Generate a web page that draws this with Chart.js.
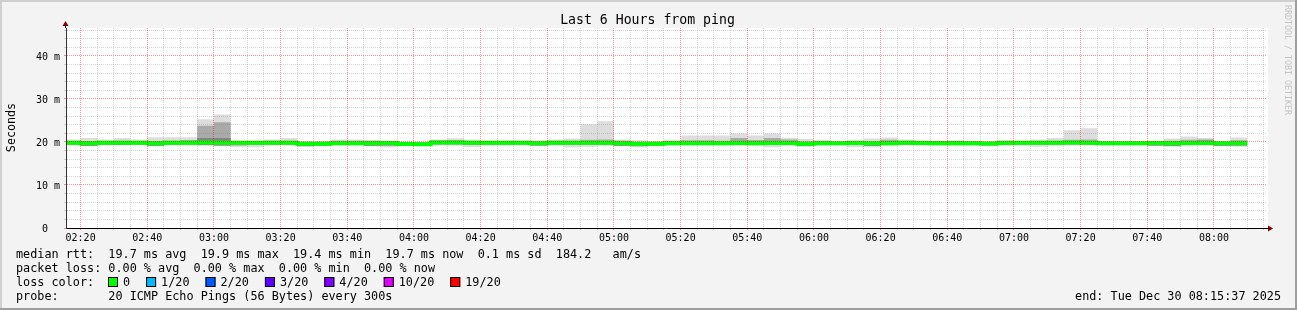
<!DOCTYPE html>
<html>
<head>
<meta charset="utf-8">
<title>Last 6 Hours from ping</title>
<script src="https://cdn.jsdelivr.net/npm/chart.js@4.4.1/dist/chart.umd.min.js"></script>
<style>
    html, body { margin: 0; padding: 0; background: #f3f3f3; }
    #wrap { position: relative; width: 1297px; height: 310px; }
</style>
</head>
<body>
<div id="wrap"><canvas id="ping-chart"></canvas></div>
<script>
// Période affichée (minutes depuis minuit) : 02:15:37 -> 08:15:37
const startMinute = 135 + 37 / 60;
const endMinute = 495 + 37 / 60;
const lastDataMinute = 490; // dernier échantillon : 08:10

// Médiane RTT par tranche de 5 minutes (ms)
const rttMedian = [
    19.8, 19.7, 19.8, 19.8, 19.8, 19.7, 19.8, 19.8, 19.9, 19.8,
    19.8, 19.8, 19.8, 19.8, 19.6, 19.6, 19.7, 19.7, 19.7, 19.75,
    19.55, 19.45, 19.9, 19.9, 19.8, 19.8, 19.8, 19.8, 19.7, 19.8,
    19.8, 19.8, 19.8, 19.7, 19.6, 19.6, 19.7, 19.7, 19.7, 19.7,
    19.75, 19.7, 19.75, 19.75, 19.6, 19.7, 19.7, 19.75, 19.7, 19.7,
    19.8, 19.75, 19.7, 19.7, 19.7, 19.65, 19.75, 19.8, 19.8, 19.8,
    19.85, 19.8, 19.7, 19.7, 19.7, 19.75, 19.7, 19.75, 19.75, 19.7,
    19.7
];

// Fumée : ping le plus rapide / le plus lent
const smokeLow = [
    19.2, 19.0, 19.2, 19.3, 19.3, 19.0, 19.2, 19.2, 19.0, 19.0,
    18.8, 18.8, 19.2, 19.2, 18.9, 19.1, 19.2, 19.2, 19.1, 18.7,
    19.2, 19.3, 19.2, 19.1, 18.8, 19.1, 19.1, 19.2, 19.1, 19.1,
    18.7, 18.9, 19.0, 19.1, 18.7, 19.1, 19.1, 19.2, 19.2, 19.2,
    19.1, 19.1, 18.8, 19.1, 19.0, 19.1, 19.2, 18.8, 18.8, 19.0,
    19.2, 19.1, 19.1, 19.0, 19.0, 19.1, 19.1, 19.1, 18.9, 19.1,
    19.2, 19.2, 19.2, 19.2, 19.2, 19.1, 19.0, 19.0, 19.1, 19.1,
    18.9
];
const smokeHigh = [
    20.6, 20.9, 20.6, 20.9, 20.6, 21.1, 21.1, 21.1, 25.3, 26.4,
    20.3, 20.2, 20.6, 20.9, 20.2, 20.2, 20.6, 20.6, 20.4, 20.3,
    20.1, 20.0, 20.6, 20.85, 20.6, 20.3, 20.35, 20.35, 20.4, 20.6,
    20.8, 24.1, 24.8, 20.6, 20.4, 20.2, 20.5, 21.5, 21.5, 21.5,
    22.0, 21.5, 22.0, 21.0, 20.7, 20.5, 20.2, 20.5, 20.8, 21.05,
    20.6, 20.4, 20.2, 20.3, 20.2, 20.1, 20.4, 20.2, 20.6, 20.9,
    22.7, 23.2, 20.2, 20.2, 20.2, 20.1, 20.8, 21.3, 20.9, 20.2,
    21.05
];

// Fumée intermédiaire (gris moyen)
const midLow = [
    19.4, 19.1, 19.4, 19.3, 19.4, 19.1, 19.4, 19.4, 19.3, 19.2,
    19.2, 19.3, 19.4, 19.4, 19.0, 19.2, 19.3, 19.3, 19.1, 19.2,
    19.2, 19.35, 19.5, 19.5, 19.3, 19.4, 19.4, 19.4, 19.2, 19.4,
    19.3, 19.4, 19.4, 19.1, 19.0, 19.2, 19.3, 19.3, 19.3, 19.3,
    19.3, 19.3, 19.3, 19.4, 19.0, 19.3, 19.3, 19.3, 19.1, 19.3,
    19.4, 19.3, 19.3, 19.3, 19.3, 19.2, 19.3, 19.4, 19.4, 19.4,
    19.4, 19.4, 19.3, 19.3, 19.3, 19.2, 19.0, 19.3, 19.3, 19.1,
    19.2
];
const midHigh = [
    20.2, 20.2, 20.2, 20.3, 20.2, 20.2, 20.3, 20.4, 23.8, 24.6,
    20.2, 20.1, 20.3, 20.3, 20.0, 20.0, 20.3, 20.3, 20.3, 20.2,
    20.0, 19.9, 20.3, 20.4, 20.2, 20.2, 20.2, 20.1, 20.1, 20.3,
    20.3, 20.5, 20.6, 20.3, 20.0, 20.0, 20.2, 20.4, 20.4, 20.3,
    20.9, 20.4, 20.9, 20.6, 20.1, 20.2, 20.0, 20.2, 20.1, 20.5,
    20.3, 20.2, 20.2, 20.3, 20.1, 20.0, 20.3, 20.1, 20.2, 20.3,
    20.5, 20.6, 20.0, 20.0, 20.0, 20.0, 20.3, 20.5, 20.6, 20.0,
    20.4
];

// Fumée centrale (gris foncé)
const innerLow = [
    19.4, 19.15, 19.4, 19.3, 19.4, 19.15, 19.4, 19.4, 19.3, 19.2,
    19.4, 19.4, 19.4, 19.4, 19.05, 19.2, 19.3, 19.3, 19.15, 19.2,
    19.3, 19.4, 19.5, 19.5, 19.35, 19.4, 19.4, 19.4, 19.2, 19.4,
    19.4, 19.4, 19.4, 19.15, 19.1, 19.2, 19.3, 19.3, 19.3, 19.3,
    19.35, 19.3, 19.35, 19.4, 19.1, 19.3, 19.3, 19.35, 19.15, 19.3,
    19.4, 19.35, 19.3, 19.3, 19.3, 19.25, 19.35, 19.4, 19.4, 19.4,
    19.45, 19.4, 19.3, 19.3, 19.3, 19.2, 19.1, 19.3, 19.3, 19.15,
    19.2
];
const innerHigh = [
    20.1, 20.1, 20.1, 20.1, 20.1, 20.1, 20.2, 20.3, 20.9, 20.9,
    20.1, 20.1, 20.1, 20.1, 19.9, 19.9, 20.1, 20.1, 20.1, 20.1,
    19.9, 19.85, 20.3, 20.3, 20.1, 20.1, 20.1, 20.1, 20.0, 20.1,
    20.1, 20.1, 20.2, 20.1, 19.9, 19.9, 20.1, 20.1, 20.1, 20.1,
    20.3, 20.3, 20.3, 20.2, 19.9, 20.1, 20.0, 20.1, 20.0, 20.2,
    20.1, 20.1, 20.2, 20.2, 20.0, 19.9, 20.2, 20.1, 20.1, 20.1,
    20.2, 20.2, 20.0, 20.0, 20.0, 20.0, 20.1, 20.2, 20.35, 20.0,
    20.1
];

// Textes
const chartTitle = 'Last 6 Hours from ping';
const yAxisTitle = 'Seconds';
const watermark = 'RRDTOOL / TOBI OETIKER';
const legendLines = [
    'median rtt:  19.7 ms avg  19.9 ms max  19.4 ms min  19.7 ms now  0.1 ms sd  184.2   am/s',
    'packet loss: 0.00 % avg  0.00 % max  0.00 % min  0.00 % now',
    'loss color:',
    'probe:       20 ICMP Echo Pings (56 Bytes) every 300s'
];
const endLabel = 'end: Tue Dec 30 08:15:37 2025';
const lossLabels = ['0', '1/20', '2/20', '3/20', '4/20', '10/20', '19/20'];
const lossColors = ['#00ff00', '#00b8ff', '#0059ff', '#5e00ff', '#7e00ff', '#dd00ff', '#ff0000'];

// Graduations
const yTicks = [];
for (let v = 0; v <= 46; v += 2) yTicks.push(v);
const xTicks = [];
for (let m = 140; m <= 495; m += 5) xTicks.push(m);

// Début de chaque tranche : la première est tronquée au début du graphe
const binStarts = [startMinute];
for (let i = 1; i < rttMedian.length; i++) binStarts.push(140 + 5 * (i - 1));

function toPoints(values) {
    const pts = values.map((v, i) => ({ x: binStarts[i], y: v }));
    pts.push({ x: lastDataMinute, y: values[values.length - 1] });
    return pts;
}

function band(values, color, fill, order) {
    return {
        data: toPoints(values),
        stepped: true,
        borderWidth: 0,
        borderColor: 'rgba(0,0,0,0)',
        backgroundColor: color,
        pointRadius: 0,
        fill: fill,
        order: order
    };
}

const FONT = '"DejaVu Sans Mono", monospace';
const majorGrid = 'rgba(240, 0, 0, 0.42)';
const minorGrid = 'rgba(120, 120, 120, 0.3)';

function hhmm(v) {
    const h = Math.floor(v / 60);
    const m = v % 60;
    return String(h).padStart(2, '0') + ':' + String(m).padStart(2, '0');
}

/**
 * Décor façon rrdtool : cadre, titre, légende, flèches
 */
const smokepingFrame = {
    id: 'smokepingFrame',
    beforeDraw(chart) {
        const { ctx, width, height, chartArea: a } = chart;
        ctx.save();
        ctx.fillStyle = '#f3f3f3';
        ctx.fillRect(0, 0, width, height);
        ctx.fillStyle = '#cfcfcf';
        ctx.fillRect(0, 0, width, 2);
        ctx.fillRect(0, 0, 2, height);
        ctx.fillStyle = '#9e9e9e';
        ctx.fillRect(0, height - 2, width, 2);
        ctx.fillRect(width - 2, 0, 2, height);
        ctx.fillStyle = '#ffffff';
        ctx.fillRect(a.left, a.top, a.right - a.left + 2, a.bottom - a.top);
        ctx.restore();
    },
    afterDraw(chart) {
        const { ctx, chartArea: a } = chart;
        ctx.save();

        // Prolongement des axes et flèches
        ctx.strokeStyle = '#000';
        ctx.lineWidth = 1;
        ctx.beginPath();
        ctx.moveTo(a.left - 0.5, a.top);
        ctx.lineTo(a.left - 0.5, a.top - 3);
        ctx.moveTo(a.right, a.bottom + 0.5);
        ctx.lineTo(a.right + 3, a.bottom + 0.5);
        ctx.stroke();
        ctx.fillStyle = '#7f0000';
        ctx.beginPath();
        ctx.moveTo(a.left - 3.5, a.top - 2);
        ctx.lineTo(a.left + 2.5, a.top - 2);
        ctx.lineTo(a.left - 0.5, a.top - 7);
        ctx.closePath();
        ctx.fill();
        ctx.beginPath();
        ctx.moveTo(a.right + 2, a.bottom - 2.5);
        ctx.lineTo(a.right + 2, a.bottom + 3.5);
        ctx.lineTo(a.right + 7, a.bottom + 0.5);
        ctx.closePath();
        ctx.fill();

        // Titre
        ctx.fillStyle = '#000';
        ctx.textAlign = 'center';
        ctx.textBaseline = 'middle';
        ctx.font = '13.2px ' + FONT;
        ctx.fillText(chartTitle, 647.5, 20.5);

        // Titre de l'axe Y
        ctx.save();
        ctx.translate(12, 127.5);
        ctx.rotate(-Math.PI / 2);
        ctx.font = '11.7px ' + FONT;
        ctx.fillText(yAxisTitle, 0, 0);
        ctx.restore();

        // Filigrane vertical
        ctx.save();
        ctx.translate(1287.5, 5);
        ctx.rotate(Math.PI / 2);
        ctx.textAlign = 'left';
        ctx.fillStyle = '#c4c4c4';
        ctx.font = '8.3px ' + FONT;
        ctx.fillText(watermark, 0, 0);
        ctx.restore();

        // Légende
        ctx.textAlign = 'left';
        ctx.font = '11.8px ' + FONT;
        legendLines.forEach((line, i) => {
            ctx.fillText(line, 16, 255 + 14 * i);
        });

        // Couleurs de perte
        let x = 108;
        const yBox = 282;
        lossLabels.forEach((label, i) => {
            ctx.fillStyle = lossColors[i];
            ctx.fillRect(x, yBox - 5, 10, 10);
            ctx.strokeStyle = '#000';
            ctx.strokeRect(x + 0.5, yBox - 4.5, 9, 9);
            ctx.fillStyle = '#000';
            ctx.fillText(label, x + 15, yBox + 1);
            x += 15 + ctx.measureText(label).width + 16;
        });

        ctx.textAlign = 'right';
        ctx.fillText(endLabel, 1281, 297);
        ctx.restore();
    }
};

const pingChart = new Chart(document.getElementById('ping-chart').getContext('2d'), {
    type: 'line',
    data: {
        datasets: [
            band(smokeLow, '#dddddd', false, 4),
            band(smokeHigh, '#dddddd', '-1', 4),
            band(midLow, '#aaaaaa', false, 3),
            band(midHigh, '#aaaaaa', '-1', 3),
            band(innerLow, '#858585', false, 2),
            band(innerHigh, '#858585', '-1', 2),
            {
                data: toPoints(rttMedian),
                stepped: true,
                borderWidth: 4,
                borderColor: lossColors[0],
                borderCapStyle: 'butt',
                borderJoinStyle: 'miter',
                pointRadius: 0,
                fill: false,
                order: 1
            }
        ]
    },
    options: {
        responsive: true,
        maintainAspectRatio: false,
        devicePixelRatio: 1,
        animation: false,
        events: [],
        layout: {
            padding: { left: 0, top: 28, right: 31, bottom: 62 }
        },
        plugins: {
            legend: { display: false },
            title: { display: false },
            tooltip: { enabled: false }
        },
        scales: {
            x: {
                type: 'linear',
                min: startMinute,
                max: endMinute,
                afterBuildTicks: (scale) => { scale.ticks = xTicks.map(v => ({ value: v })); },
                afterFit: (scale) => { scale.height = 20; },
                grid: {
                    z: 1,
                    color: (c) => (c.tick && c.tick.value % 20 === 0 ? majorGrid : minorGrid),
                    tickColor: (c) => (c.tick && c.tick.value % 20 === 0 ? majorGrid : minorGrid),
                    tickLength: 2,
                    lineWidth: 1
                },
                border: { display: true, color: '#000', width: 1, dash: [1, 1], z: 2 },
                ticks: {
                    autoSkip: false,
                    maxRotation: 0,
                    padding: 2,
                    color: '#000',
                    font: { family: 'DejaVu Sans Mono', size: 10 },
                    callback: (v) => (v % 20 === 0 ? hhmm(v) : '')
                }
            },
            y: {
                type: 'linear',
                min: 0,
                max: 46.5,
                afterBuildTicks: (scale) => { scale.ticks = yTicks.map(v => ({ value: v })); },
                afterFit: (scale) => { scale.width = 66; },
                grid: {
                    z: 1,
                    color: (c) => (c.tick && c.tick.value % 10 === 0 ? majorGrid : minorGrid),
                    tickColor: (c) => (c.tick && c.tick.value % 10 === 0 ? majorGrid : minorGrid),
                    tickLength: 2,
                    lineWidth: 1
                },
                border: { display: true, color: '#333', width: 1, dash: [1, 1], z: 2 },
                ticks: {
                    autoSkip: false,
                    padding: 4,
                    labelOffset: 1.5,
                    color: '#000',
                    font: { family: 'DejaVu Sans Mono', size: 10 },
                    callback: (v) => (v % 10 === 0 ? (v === 0 ? '0  ' : v + ' m') : '')
                }
            }
        }
    },
    plugins: [smokepingFrame]
});
</script>
</body>
</html>
